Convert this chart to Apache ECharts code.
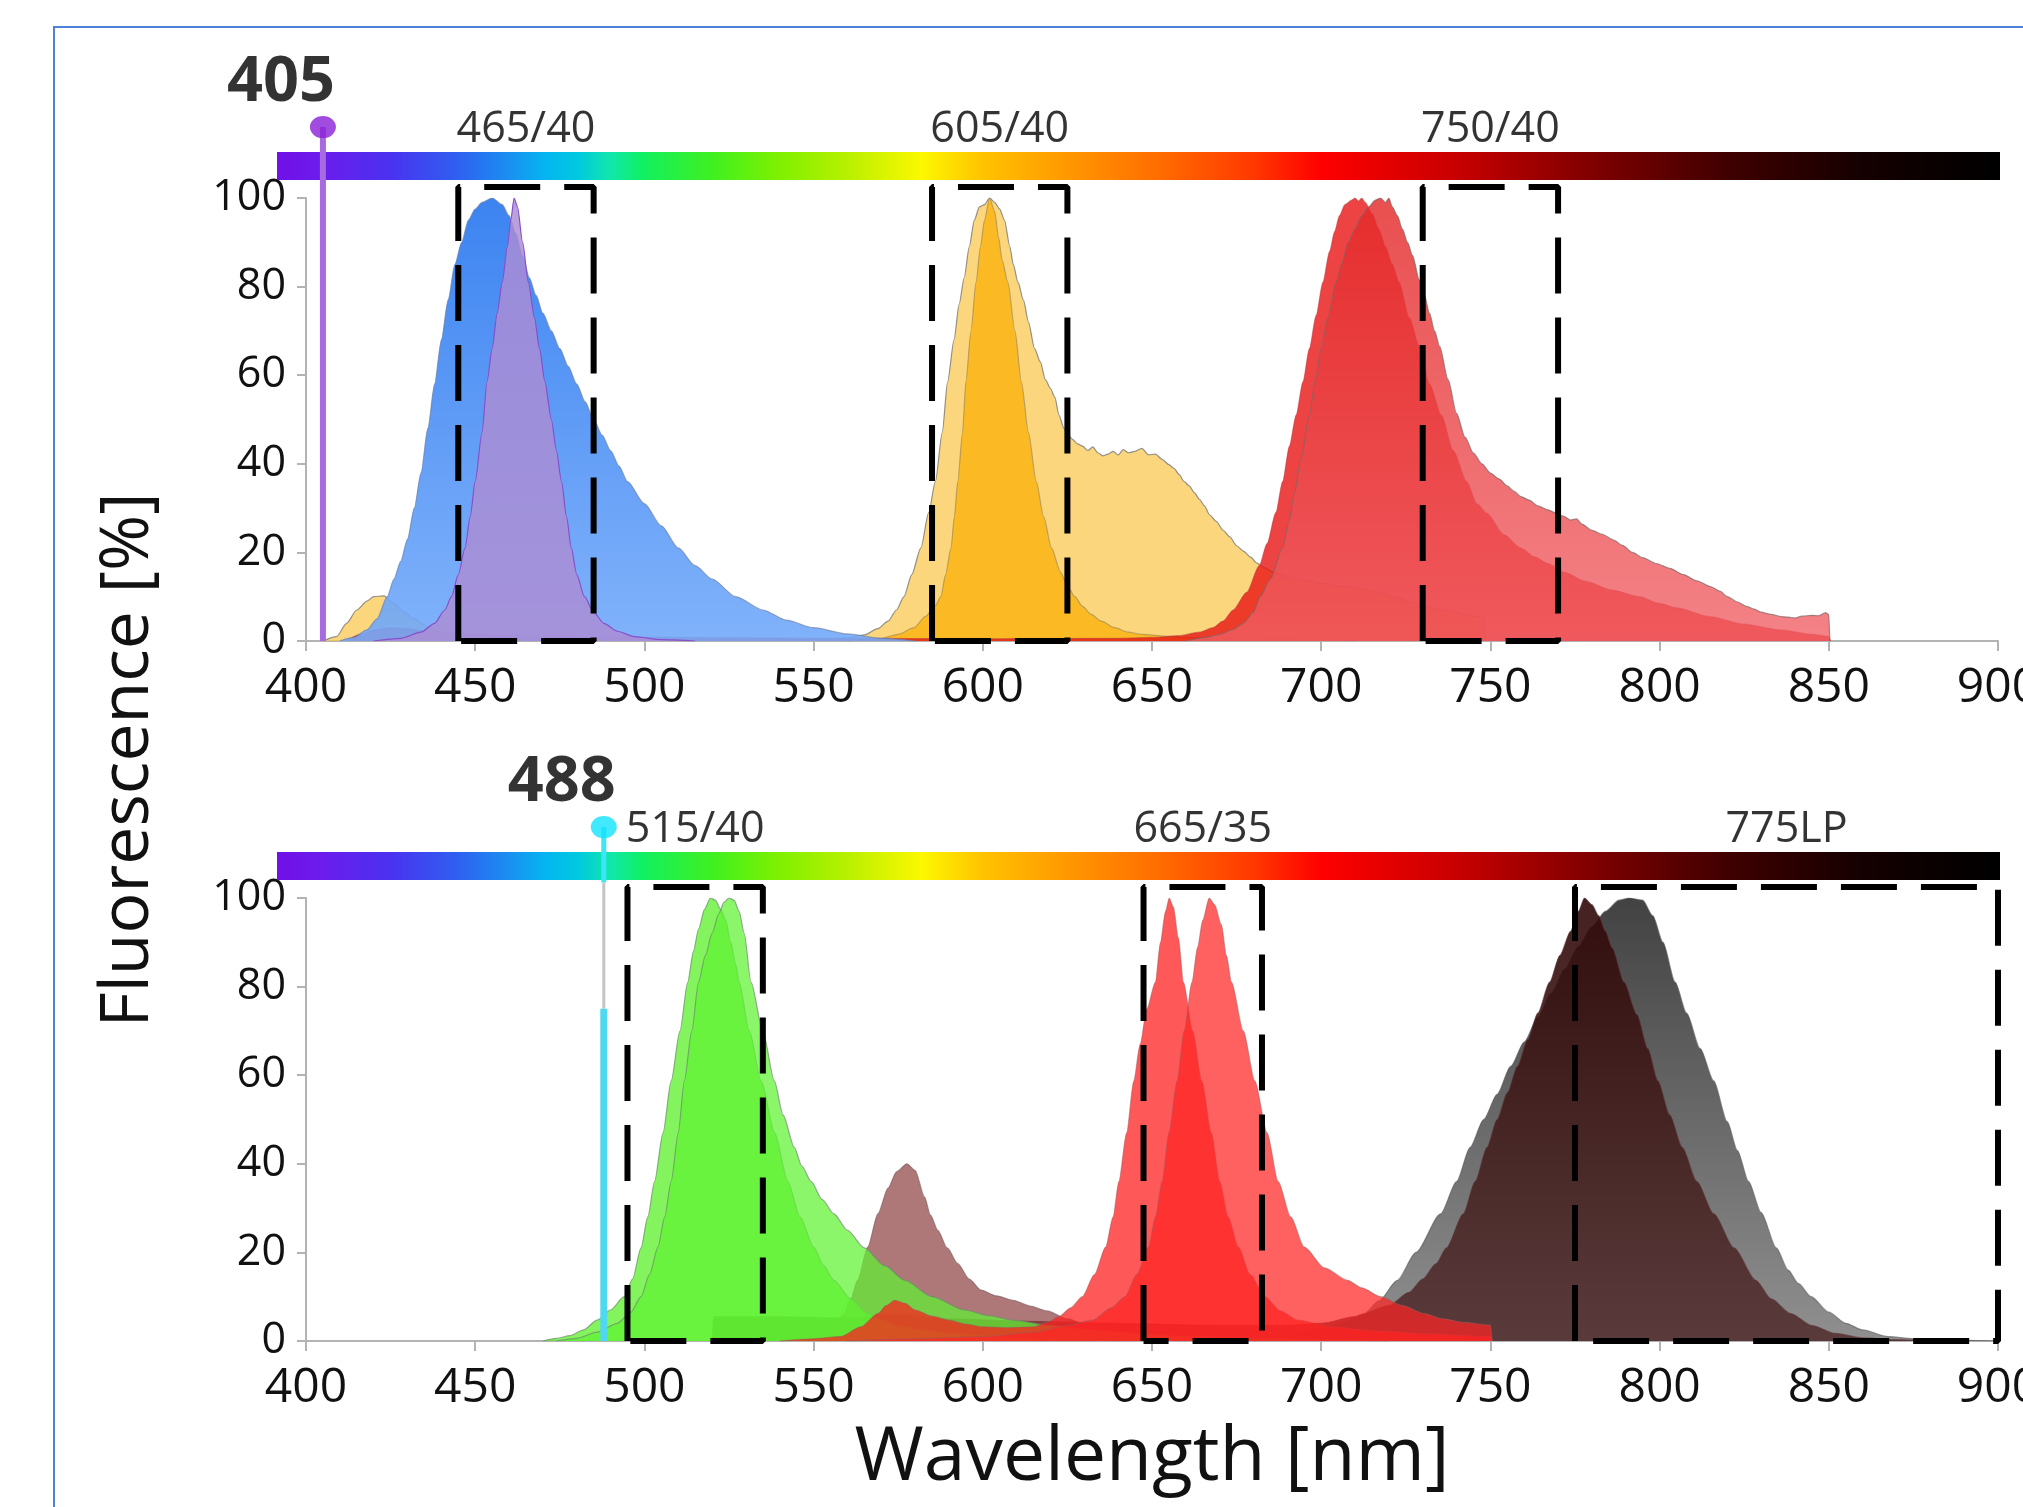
<!DOCTYPE html>
<html><head><meta charset="utf-8">
<script src="https://cdn.jsdelivr.net/npm/echarts@6/dist/echarts.min.js"></script>
<style>html,body{margin:0;padding:0;background:#fff}#c{width:2023px;height:1507px}</style>
</head><body><div id="c"></div>
<script>
// ---------- data ----------
const xTicks = [400, 450, 500, 550, 600, 650, 700, 750, 800, 850, 900];
const yTicks = [0, 20, 40, 60, 80, 100];
const lasers = [405, 488];
const filtersTop = [[445, 485, '465/40'], [585, 625, '605/40'], [730, 770, '750/40']];
const filtersBottom = [[495, 535, '515/40'], [647.5, 682.5, '665/35'], [775, 900, '775LP']];

// 405 nm panel
const violetBlue = [[410,0],[414,0.8],[418,2.5],[421,5],[424,10],[426,14],[428,18],[430,23],[432,30],[434,38],[436,48],[438,58],[440,68],[442,77],[444,85],[446,90],[448,95],[450,97.5],[452,99],[455,100],[458,98.5],[460,96],[462,92],[464,87],[466,82],[468,78],[470,74],[472.5,70],[475,66],[477.5,62],[480,58],[482.5,54],[485,50],[487.5,46.5],[490,43],[492.5,39.5],[495,36],[500,31],[505,26],[510,21],[515,17],[520,14],[527,10],[535,7],[542,4.7],[550,3],[560,1.6],[570,0.6],[580,0]];
const violetPurple = [[420,0],[428,0.6],[434,2],[438,4],[441,7],[443,10],[445,15],[447,21],[448.5,28],[450,36],[452,47],[453.5,58.5],[455,66],[456.5,74],[458,81],[459.5,89],[460.5,95],[461.5,100],[462.5,98],[464,90],[465.7,81],[467.5,73],[469,66],[470.6,58.5],[472.5,50],[474,43],[475.5,36],[477,28],[478.4,21],[480,15],[482.3,10],[485,6.5],[488,4],[492,2.2],[497,1],[505,0.3],[515,0]];
const yellowBroad = [[405,0],[409,1],[412,4],[415,7],[418,9],[420,10],[423,10.2],[426,8.5],[429,6.5],[432,5],[436,3.2],[440,2],[445,1.2],[455,0.6],[480,0.4],[520,0.3],[550,0.4],[560,0.7],[565,1.4],[569,2.8],[572,4.5],[574.5,7],[576.7,10],[579,15],[581.7,21],[584,29],[586,36],[588,47],[589.6,58.5],[591.5,68],[593,76],[594.5,82],[596,89],[597.5,95],[599,98],[600.5,98.5],[602,100],[603.5,99],[605,97.5],[606.4,95],[608,89],[609,85],[610.4,81],[612,77],[613.5,72],[615.3,66],[617,63],[618.5,59],[620,57],[621.3,55],[622.5,51],[624,48],[625.2,46.5],[626.5,45.5],[628,44.5],[629.5,44],[631,43],[632.5,43.8],[634,42.5],[635.5,41.8],[637,42.2],[638.5,42.8],[640,42],[641.5,43.2],[643,42.5],[645,42.8],[647,43.5],[649,42],[651,42.2],[653,41],[655,39.8],[656.5,39],[658,37.6],[659.5,36],[661,35],[662.5,33.5],[664,32],[665.5,30.5],[667,28.5],[669,27],[671,25],[673,23.5],[675,21.5],[677,20.3],[679,19],[681,17.6],[683,16.6],[686,15.5],[690,14.5],[695,13.8],[700,13],[707,12.2],[714,11.5],[718,10.8],[722,9.8],[726,9],[730,8],[734,7.3],[738,6.8],[742,6.1],[746,5.5],[748,5],[748.5,0]];
const orangeNarrow = [[560,0],[566,0.3],[570,0.6],[575,1.5],[579.7,3],[583,5.5],[586,8],[587.6,10],[589,15],[590.6,21],[591.6,28],[592.6,36],[594,47],[595,58.5],[596.5,70],[598,81],[599.3,89],[600.5,95],[602,100],[603.5,97],[604.7,91],[605.7,86],[607.4,81],[609.5,70],[611.4,58.5],[613.5,47],[615.8,36],[618,28],[620.3,21],[623,15.5],[625,12.5],[627.2,10],[629.5,7.8],[632,6],[635,4.5],[639,3],[643,2],[647,1.5],[655,1],[665,0.7],[680,0.5],[700,0.3],[710,0]];
const redDeep = [[412,0],[416,1.5],[420,2.5],[425,3],[430,2.8],[436,2.2],[445,1.8],[460,1.3],[480,1],[520,0.8],[560,0.6],[600,0.5],[640,0.6],[650,0.8],[658,1.2],[664,2],[668,3],[671,4.5],[674,7],[678,11],[681.7,17],[684,22],[686.6,29],[688.6,36],[690.6,44],[692.6,51],[694.6,58.5],[696.5,66],[698.5,73.5],[700.5,81],[702.5,88],[704,92.5],[705.4,96],[707,98.5],[709,99.5],[710,100],[711,99.3],[712,100],[713,99],[715,96.5],[717,93],[719,89],[721,85],[723,81],[726,73],[729,66.5],[732,58],[735.5,51],[739,43],[743,36],[746,31],[749,28.8],[754,24],[759,21],[763,19],[767,17.5],[772,15.5],[778,13.5],[786,11.5],[794,10],[800,8.5],[805,7.5],[815,5.5],[825,3.8],[836,2.5],[845,1.5],[850,1],[850.5,0]];
const redTail = [[660,0],[666,0.8],[670,1.5],[674,2.6],[677,4],[680,6.5],[682,10],[685,14],[688.6,21],[690.5,27],[692,33],[694,41],[696.5,51],[698.3,59],[700,66],[702,73],[704.4,81],[706,85],[708,90],[710,93],[712,96],[714,98],[716,99.5],[717.5,100],[719,99],[720,100],[721,98],[722.5,96],[724,93],[725.5,90],[727,87],[729,81.5],[730.5,78],[732,74],[733.5,70],[735,66.5],[737.5,59],[740,51.4],[742.5,46],[745,42.4],[747.5,40],[750,37.9],[752.5,36.6],[755,35],[757,33.8],[759,32.6],[761.5,31.8],[764,30.5],[767,29.6],[769.5,28.8],[771.5,28.2],[773.7,27.3],[775.5,27.6],[777,26.4],[780,25],[783,24.1],[786.4,22.8],[789,21.6],[792,20],[795,18.8],[799,17.5],[803,16.4],[807,15],[811,13.6],[815,12.3],[818,11.2],[820,10],[823,8.8],[825.7,7.8],[828,7.2],[830,6.5],[833,6],[836,5.5],[838,5.4],[840,5.2],[842,5.6],[845,5.8],[847,5.7],[849,6.4],[850,6],[850.3,0]];

// 488 nm panel
const greenA = [[470,0],[474,0.6],[478,1.2],[482,2.5],[486,4.7],[490,7],[494,10],[496.5,14],[499,21],[501,28],[503,36],[505.5,47],[507.9,58.7],[510.5,70],[512.8,81],[514.5,88],[516,93],[517.8,97.5],[519.5,100],[521,99.5],[522.5,97.5],[524,95],[525.5,90],[527,85],[528,81],[531,70],[534.5,58.7],[538.5,47],[542.4,36],[546,28],[550,21.2],[553,17],[556,13.7],[561,9.5],[566,6.2],[570,4.8],[575,3.5],[582,2.5],[590,1.8],[600,1.2],[610,0.8],[625,0.4],[640,0]];
const greenB = [[474,0],[480,0.6],[486,2],[492,4],[496,6.5],[499,10],[501.5,15],[504,21.2],[506,28],[507.9,36],[510,47],[511.8,58.7],[514,70],[516,81],[518,87],[520,92],[522,96.5],[523.5,99],[525,100],[526.5,99.5],[528,97],[529.5,92],[531.5,81],[535,70],[538.4,58.7],[541,51],[544.3,43.7],[546.5,39.5],[549.3,36],[552.5,32],[556,28.7],[560,25],[565,21],[571,17],[577,13.7],[585,10],[594.6,7],[602,5.7],[609,4.7],[620,3.5],[630,2.7],[640,2],[650,1.5],[660,1],[680,0.6],[700,0.3],[720,0]];
const rosy = [[540,0],[548,0.7],[553,1.7],[556,3.5],[559,6.2],[561,9.5],[563,13.7],[566,21.2],[569,28.7],[572,34.5],[574.5,38.2],[577.6,40],[580,38.5],[582.8,32.5],[584.5,28.5],[586.7,25],[589.5,21],[592.6,17.5],[596,14],[599.5,11.5],[604,10.2],[609,9.2],[614,7.9],[619,6.8],[625,5],[632,3.2],[640,1.8],[650,0.8],[660,0]];
const redA = [[540,0],[550,0.5],[558,1],[564,3.2],[569,6.2],[571.5,8],[574,9.2],[577,8.5],[580,7],[585,5.6],[590,4.7],[595,3.8],[600,3.2],[607,3],[615,3.2],[619,4.2],[622.5,5.5],[626,7.5],[629.4,10],[633,15],[636.3,21.2],[638.5,28],[640.2,36],[642.5,47],[644.6,58.7],[646.5,67],[648.5,75],[651,81],[652.5,90],[654,97],[655.1,100],[656.3,98],[657.8,91],[659.3,81],[662,70],[664.7,58.7],[667.5,47],[670,36],[672.5,28],[675.5,21.2],[679,15],[683.3,10],[688,6.8],[693,4.7],[703,3.2],[715,2.3],[730,1.6],[750,1],[750.5,0]];
const redB = [[560,0],[580,0.5],[600,1],[615,2],[625,3.5],[632.4,4.7],[638,7.5],[642,10],[645.5,15],[649,21.2],[651,28],[653,36],[655,47],[657.4,58.7],[659.5,70],[661.8,81],[663.5,89],[665,95],[666.9,100],[668.5,98.5],[670.5,94],[672,87],[673.5,81],[677,70],[680.4,58.7],[684,47],[687.3,36],[691,28],[695,21.2],[701,16.5],[707.8,13.7],[712,12],[717.6,10],[724,8],[730.4,6.2],[736,5],[742,4.2],[750,3.6],[750.5,0]];
const brown = [[520,0],[520.5,5.5],[540,5.5],[560,5.2],[575,6],[590,5],[610,4.5],[640,4],[670,3.5],[690,3.5],[700,4],[710,5.5],[720,8],[726,11],[730,14],[734,17.5],[737,21],[742,28.7],[745.5,36],[749,43.7],[752,50],[755,56],[758,62],[761,68],[764,74],[767.5,81],[770.5,87],[773.7,92.5],[776,97],[777.8,100],[780,98.5],[782,96],[784,92.5],[786,88.7],[789.5,81],[793.3,73.7],[796.5,66],[799.5,58.7],[803,51],[806.7,43.7],[811,36],[816,28.7],[822,21],[828.4,13.7],[833,9.5],[838.7,6.2],[845,3.5],[852,1.7],[860,0.7],[870,0.3],[880,0]];
const gray = [[680,0],[690,1],[700,2.5],[706,4],[712.7,6.2],[717,9],[722.5,13.7],[728,20],[735.3,28.7],[740,36],[744,43.7],[748,50],[752,55.7],[756,62],[760,67.5],[764,73],[768,78.5],[772,84],[776,89],[780,93.5],[784,97],[788,99.5],[791,100],[795,99.5],[798,96],[801,90],[804.6,81],[808,74],[812,66],[816,58.7],[820,49.5],[823,43],[826.3,36],[830,29],[834.5,21],[838,16],[841,13],[844.8,10],[850,6.5],[855,4],[860,2.5],[867.5,1],[875,0.5],[885,0.2],[900,0]];

// ---------- chart ----------
const FONT = '"Open Sans", "DejaVu Sans", sans-serif';
const chart = echarts.init(document.getElementById('c'), null, {renderer: 'canvas'});
const vgrad = (a, b) => ({type: 'linear', x: 0, y: 0, x2: 0, y2: 1, colorStops: [{offset: 0, color: a}, {offset: 1, color: b}]});
const OUT = 'rgba(115,115,115,0.75)';
function area(data, color, gi, line, z) {
  return {type: 'line', xAxisIndex: gi, yAxisIndex: gi, data, symbol: 'none', smooth: 0.25, smoothMonotone: 'x',
    lineStyle: {width: 1.2, color: line || OUT}, areaStyle: {color, opacity: 1}, z: z || 3, silent: true};
}
function boxes(list, gi) {
  return list.map(f => ({type: 'line', xAxisIndex: gi, yAxisIndex: gi, clip: false, symbol: 'none', z: 12, silent: true,
    data: [[f[0], 0], [f[0], 102.5], [f[1], 102.5], [f[1], 0], [f[0], 0]],
    lineStyle: {color: '#000', width: 6, type: [56, 24]}}));
}
function filterLabels(list, gi) {
  return {type: 'scatter', xAxisIndex: gi, yAxisIndex: gi, clip: false, symbolSize: 1, itemStyle: {color: 'rgba(0,0,0,0)'}, z: 15,
    data: list.map(f => [(f[0] + f[1]) / 2, 115.5, f[2]]),
    label: {show: true, position: 'inside', formatter: p => p.data[2], fontSize: 43, fontFamily: FONT, color: '#000'}};
}
function laser(nm, gi, dot, stemParts) {
  const out = [];
  stemParts.forEach(s => out.push({type: 'line', xAxisIndex: gi, yAxisIndex: gi, clip: false, symbol: 'none', z: 20, silent: true,
    data: [[nm, s[0]], [nm, s[1]]], lineStyle: {color: s[2], width: s[3]}}));
  out.push({type: 'scatter', xAxisIndex: gi, yAxisIndex: gi, clip: false, z: 21, symbol: 'circle', symbolSize: [26, 22],
    itemStyle: {color: dot}, data: [[nm, 116]]});
  out.push({type: 'scatter', xAxisIndex: gi, yAxisIndex: gi, clip: false, z: 21, symbolSize: 1, itemStyle: {color: 'rgba(0,0,0,0)'},
    data: [[nm, 126, String(nm)]],
    label: {show: true, position: 'inside', offset: [-42, 0], formatter: p => p.data[2], fontSize: 63, fontWeight: 'bold', fontFamily: FONT, color: '#000'}});
  return out;
}
const specStops = [
  [0, '#7010e8'], [0.026, '#6c1cec'], [0.066, '#4a32f0'], [0.105, '#2f60f0'], [0.135, '#1a90f0'], [0.155, '#05b4f0'],
  [0.174, '#00c8e0'], [0.194, '#10e8a8'], [0.213, '#12f060'], [0.253, '#40f020'], [0.292, '#80f000'], [0.331, '#b8f000'],
  [0.374, '#fcf800'], [0.409, '#ffc400'], [0.449, '#ffa000'], [0.508, '#ff7000'], [0.567, '#ff3800'], [0.606, '#ff0000'],
  [0.685, '#c80000'], [0.763, '#800000'], [0.842, '#400000'], [0.92, '#150000'], [1, '#000000']
].map(s => ({offset: s[0], color: s[1]}));
const specGrad = {type: 'linear', x: 0, y: 0, x2: 1, y2: 0, colorStops: specStops};

const xAxisBase = gi => ({
  type: 'value', gridIndex: gi, min: 400, max: 900, interval: 50,
  axisLine: {show: true, lineStyle: {color: '#b3b3b3', width: 2}},
  axisTick: {show: true, length: 10, lineStyle: {color: '#b3b3b3', width: 2}},
  axisLabel: {fontSize: 48, fontFamily: FONT, color: '#111', margin: 23},
  splitLine: {show: false}
});
const yAxisBase = gi => ({
  type: 'value', gridIndex: gi, min: 0, max: 100, interval: 20,
  axisLine: {show: true, lineStyle: {color: '#b3b3b3', width: 2}},
  axisTick: {show: true, length: 9, lineStyle: {color: '#b3b3b3', width: 2}},
  axisLabel: {fontSize: 43, fontFamily: FONT, color: '#111', margin: 20},
  splitLine: {show: false}
});

const option = {
  animation: false,
  backgroundColor: '#ffffff',
  grid: [
    {left: 306, right: 25, top: 198, height: 443, containLabel: false, outerBoundsMode: 'none'},
    {left: 306, right: 25, top: 898, height: 443, containLabel: false, outerBoundsMode: 'none'}
  ],
  xAxis: [xAxisBase(0), Object.assign(xAxisBase(1), {name: 'Wavelength [nm]', nameLocation: 'middle', nameGap: 80,
    nameTextStyle: {fontSize: 75, fontFamily: FONT, color: '#111'}})],
  yAxis: [yAxisBase(0), yAxisBase(1)],
  graphic: [
    {type: 'rect', z: 0, silent: true, shape: {x: 54, y: 27, width: 2300, height: 1700}, style: {fill: 'none', stroke: '#4f81d6', lineWidth: 2}},
    {type: 'rect', z: 1, silent: true, shape: {x: 277, y: 152, width: 1723, height: 28}, style: {fill: specGrad}},
    {type: 'rect', z: 1, silent: true, shape: {x: 277, y: 852, width: 1723, height: 28}, style: {fill: specGrad}},
    {type: 'text', z: 5, silent: true, x: 129, y: 760, rotation: Math.PI / 2,
      style: {text: 'Fluorescence [%]', fontSize: 68, fontFamily: FONT, fill: '#111', textAlign: 'center', textVerticalAlign: 'middle', align: 'center', verticalAlign: 'middle'}}
  ],
  series: [
    // top panel
    area(yellowBroad, 'rgba(250,200,80,0.75)', 0, 'rgba(120,120,120,0.8)', 3),
    area(orangeNarrow, 'rgba(250,180,20,0.85)', 0, 'rgba(150,130,90,0.6)', 4),
    area(redDeep, 'rgba(232,20,20,0.8)', 0, 'rgba(180,60,60,0.5)', 5),
    area(redTail, vgrad('rgba(228,40,40,0.82)', 'rgba(240,95,100,0.78)'), 0, 'rgba(130,100,100,0.7)', 6),
    area(violetBlue, vgrad('rgba(45,122,240,0.93)', 'rgba(115,170,250,0.9)'), 0, 'rgba(110,130,170,0.7)', 7),
    area(violetPurple, 'rgba(172,140,212,0.82)', 0, '#8650cc', 8),
    // bottom panel
    area(gray, vgrad('rgba(40,40,40,0.88)', 'rgba(125,125,125,0.86)'), 1, 'rgba(90,90,90,0.6)', 3),
    area(brown, vgrad('rgba(48,8,8,0.9)', 'rgba(82,46,46,0.87)'), 1, 'rgba(90,50,50,0.6)', 4),
    area(rosy, 'rgba(140,62,62,0.7)', 1, 'rgba(120,90,90,0.6)', 5),
    area(greenA, 'rgba(90,240,40,0.75)', 1, 'rgba(110,140,110,0.7)', 6),
    area(greenB, 'rgba(96,242,50,0.72)', 1, 'rgba(110,140,110,0.7)', 7),
    area(redA, 'rgba(255,30,30,0.74)', 1, 'rgba(160,90,90,0.5)', 8),
    area(redB, 'rgba(255,36,36,0.72)', 1, 'rgba(160,90,90,0.5)', 9),
    ...boxes(filtersTop, 0),
    ...boxes(filtersBottom, 1),
    filterLabels(filtersTop, 0),
    filterLabels(filtersBottom, 1),
    ...laser(lasers[0], 0, '#8a1fd6', [[116, 0, '#a86ae0', 6]]),
    ...laser(lasers[1], 1, '#12e4ff', [[116, 103.5, '#3ce6f4', 5], [103.5, 75, '#c4c4c4', 3], [75, 0, '#4fd8f0', 7]])
  ]
};
chart.setOption(option);
</script>
</body></html>
